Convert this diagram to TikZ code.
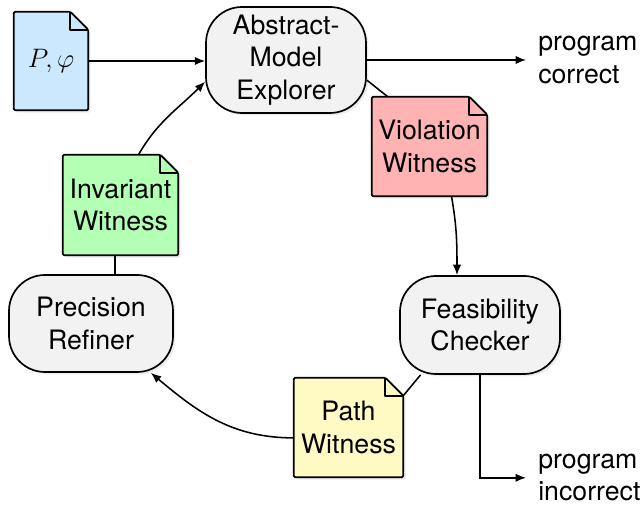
\documentclass[tikz,border=0pt]{standalone}
\usepackage{fix-cm}
\usepackage{fontspec}
\setmainfont{TeX Gyre Heros}
\usetikzlibrary{arrows.meta,backgrounds,shadows}

\definecolor{docblue}{HTML}{CCE8FF}
\definecolor{docred}{HTML}{FFB3B3}
\definecolor{docgreen}{HTML}{B3FFB3}
\definecolor{docyellow}{HTML}{FFF9C4}
\definecolor{boxgray}{HTML}{F2F2F2}
\newcommand{\foldsize}{0.45cm}

\begin{document}
\begin{tikzpicture}[
    stage/.style={draw,line width=1.2pt,fill=boxgray,rounded corners=0.9cm,align=center,
        minimum width=4cm,minimum height=2.45cm,font=\fontsize{19}{23}\selectfont,
        drop shadow={opacity=0.15,shadow xshift=0.06cm,shadow yshift=-0.06cm}},
    witness/.style={align=center,minimum width=2.875cm,minimum height=2.475cm,inner sep=0pt,
        font=\fontsize{19}{23}\selectfont},
    outcome/.style={align=left,inner sep=0pt,anchor=west,font=\fontsize{19}{23}\selectfont},
    flow/.style={line width=1.1pt,-{Latex[length=2.6mm,width=2.1mm]}},
    link/.style={line width=1.1pt}]
    \useasboundingbox (0,0) rectangle (16.075,12.625);

    \node[witness,minimum width=1.85cm,minimum height=2.45cm] (input) at (1.275,11.1) {$P,\varphi$};
    \node[stage,minimum height=2.65cm] (explorer) at (7.15,11.125) {Abstract-\\Model\\Explorer};
    \node[witness] (violation) at (10.7375,8.9625) {Violation\\Witness};
    \node[stage] (checker) at (12,4.5) {Feasibility\\Checker};
    \node[witness,minimum width=2.725cm] (pathwit) at (8.7125,1.9375) {Path\\Witness};
    \node[stage,minimum width=4.1cm,minimum height=2.425cm] (refiner) at (2.275,4.5375) {Precision\\Refiner};
    \node[witness,minimum height=2.5cm] (invariant) at (3.0125,7.5) {Invariant\\Witness};
    \node[outcome] (correct) at (13.45,11.125) {program\\correct};
    \node[outcome] (incorrect) at (13.45,0.68) {program\\incorrect};

    % witness files with a folded corner
    \begin{scope}[on background layer]
        \foreach \n/\col in {input/docblue,violation/docred,invariant/docgreen,pathwit/docyellow}{
            \draw[line width=1.2pt,fill=\col,rounded corners=1pt,
                drop shadow={opacity=0.15,shadow xshift=0.06cm,shadow yshift=-0.06cm}]
                (\n.south west) -- (\n.north west) -- ([xshift=-\foldsize]\n.north east)
                -- ([yshift=-\foldsize]\n.north east) -- (\n.south east) -- cycle;
            \draw[line width=1.6pt,line join=round]
                ([xshift=-\foldsize]\n.north east) |- ([yshift=-\foldsize]\n.north east);
        }
    \end{scope}

    \draw[flow] (input.east) -- (input.east -| explorer.west);
    \draw[flow] (explorer.east) -- ([xshift=-0.3cm]correct.west);
    \draw[link] (explorer.-14) -- ([xshift=0.4cm]violation.north west);
    \draw[flow] ([xshift=0.55cm]violation.south) to[out=-80,in=90] ([xshift=-0.575cm]checker.north);
    \draw[flow] (checker.south) |- ([xshift=-0.3cm]incorrect.west);
    \draw[link] (checker.220) -- ([yshift=-\foldsize]pathwit.north east);
    \draw[flow] ([yshift=-0.26cm]pathwit.west) to[out=180,in=-40] ([xshift=-0.575cm]refiner.south east);
    \draw[link] ([xshift=-0.14cm]invariant.south) -- ([xshift=-0.14cm]invariant.south |- refiner.north);
    \draw[flow] ([xshift=0.45cm]invariant.north) to[out=60,in=-135] (explorer.195);
\end{tikzpicture}
\end{document}
